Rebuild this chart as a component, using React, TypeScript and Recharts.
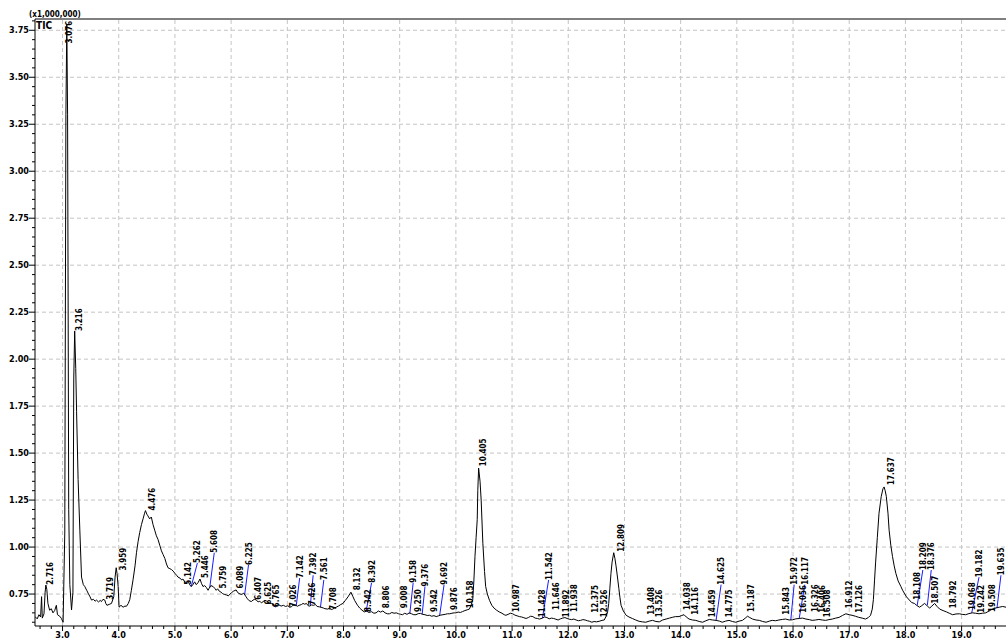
import React from "react";
import { ComposedChart, Line, Scatter, XAxis, YAxis, ReferenceLine } from "recharts";

// retention time (min) / TIC (x1,000,000)
const retentionTimes = [
  2.51, 2.55, 2.58, 2.61, 2.627, 2.64, 2.67, 2.69, 2.703, 2.72, 2.74, 2.77, 2.8, 2.83, 2.86, 2.89, 2.91, 2.95, 2.98, 3.01,
  3.04, 3.06, 3.076, 3.09, 3.11, 3.13, 3.16, 3.185, 3.2, 3.216, 3.235, 3.25, 3.277, 3.308, 3.338, 3.37, 3.396, 3.43, 3.455, 3.49,
  3.516, 3.55, 3.58, 3.604, 3.64, 3.67, 3.693, 3.72, 3.752, 3.77, 3.79, 3.83, 3.871, 3.912, 3.935, 3.955, 3.97, 3.99, 4.006, 4.04,
  4.078, 4.11, 4.138, 4.17, 4.196, 4.225, 4.255, 4.29, 4.316, 4.345, 4.374, 4.405, 4.433, 4.46, 4.476, 4.5, 4.52, 4.55, 4.58, 4.61,
  4.64, 4.67, 4.7, 4.73, 4.76, 4.79, 4.82, 4.85, 4.877, 4.91, 4.94, 4.97, 5.0, 5.03, 5.055, 5.09, 5.12, 5.142, 5.174, 5.2,
  5.233, 5.262, 5.29, 5.32, 5.35, 5.38, 5.41, 5.446, 5.475, 5.5, 5.53, 5.56, 5.59, 5.608, 5.64, 5.68, 5.71, 5.735, 5.759, 5.79,
  5.82, 5.85, 5.88, 5.92, 5.95, 5.98, 6.01, 6.04, 6.089, 6.12, 6.16, 6.19, 6.225, 6.26, 6.29, 6.32, 6.36, 6.39, 6.42, 6.45,
  6.48, 6.51, 6.54, 6.57, 6.6, 6.63, 6.66, 6.69, 6.72, 6.765, 6.8, 6.84, 6.89, 6.93, 6.97, 7.01, 7.04, 7.07, 7.1, 7.142,
  7.18, 7.21, 7.25, 7.28, 7.31, 7.34, 7.37, 7.4, 7.43, 7.47, 7.5, 7.53, 7.57, 7.6, 7.64, 7.67, 7.72, 7.75, 7.78, 7.81,
  7.84, 7.87, 7.91, 7.95, 7.99, 8.03, 8.08, 8.132, 8.17, 8.2, 8.25, 8.29, 8.33, 8.37, 8.41, 8.45, 8.5, 8.54, 8.58, 8.62,
  8.66, 8.7, 8.74, 8.78, 8.82, 8.86, 8.9, 8.94, 8.98, 9.01, 9.05, 9.09, 9.13, 9.17, 9.21, 9.25, 9.29, 9.33, 9.37, 9.41,
  9.45, 9.49, 9.53, 9.57, 9.61, 9.65, 9.69, 9.73, 9.77, 9.81, 9.85, 9.89, 9.93, 9.97, 10.0, 10.04, 10.08, 10.12, 10.16, 10.2,
  10.24, 10.27, 10.3, 10.32, 10.34, 10.36, 10.38, 10.39, 10.405, 10.43, 10.45, 10.48, 10.51, 10.53, 10.56, 10.6, 10.64, 10.68, 10.72, 10.77,
  10.82, 10.86, 10.89, 10.93, 10.97, 11.01, 11.05, 11.09, 11.13, 11.17, 11.21, 11.25, 11.29, 11.33, 11.37, 11.41, 11.45, 11.49, 11.54, 11.58,
  11.62, 11.66, 11.7, 11.74, 11.78, 11.82, 11.86, 11.9, 11.94, 11.98, 12.02, 12.06, 12.1, 12.14, 12.18, 12.22, 12.26, 12.3, 12.34, 12.38,
  12.42, 12.46, 12.5, 12.55, 12.6, 12.64, 12.67, 12.7, 12.72, 12.74, 12.76, 12.78, 12.809, 12.83, 12.85, 12.88, 12.9, 12.92, 12.94, 12.98,
  13.03, 13.08, 13.14, 13.2, 13.26, 13.32, 13.38, 13.44, 13.5, 13.56, 13.62, 13.68, 13.74, 13.8, 13.85, 13.91, 13.97, 14.02, 14.06, 14.1,
  14.15, 14.21, 14.27, 14.33, 14.39, 14.45, 14.51, 14.57, 14.63, 14.69, 14.74, 14.8, 14.86, 14.92, 14.98, 15.04, 15.1, 15.15, 15.19, 15.23,
  15.28, 15.34, 15.4, 15.46, 15.52, 15.58, 15.63, 15.69, 15.75, 15.81, 15.87, 15.93, 15.99, 16.05, 16.11, 16.17, 16.23, 16.29, 16.34, 16.4,
  16.46, 16.52, 16.58, 16.64, 16.7, 16.76, 16.82, 16.88, 16.94, 17.0, 17.05, 17.11, 17.17, 17.23, 17.29, 17.34, 17.38, 17.41, 17.43, 17.45,
  17.47, 17.5, 17.53, 17.57, 17.6, 17.62, 17.64, 17.66, 17.69, 17.71, 17.74, 17.77, 17.8, 17.83, 17.87, 17.92, 17.95, 17.98, 18.02, 18.07,
  18.11, 18.16, 18.2, 18.25, 18.29, 18.34, 18.38, 18.43, 18.47, 18.52, 18.56, 18.61, 18.67, 18.73, 18.78, 18.84, 18.9, 18.96, 19.01, 19.07,
  19.13, 19.19, 19.25, 19.31, 19.37, 19.43, 19.49, 19.55, 19.61, 19.67, 19.73, 19.79,
];

const ticValues = [
  0.63, 0.618, 0.64, 0.628, 0.736, 0.622, 0.645, 0.76, 0.798, 0.775, 0.7, 0.664, 0.672, 0.65, 0.662, 0.69, 0.64, 0.632, 0.62, 0.6,
  1.08, 3.3, 3.78, 3.3, 1.2, 0.8, 0.665, 0.76, 1.9, 2.15, 1.95, 1.72, 1.36, 1.09, 0.84, 0.8, 0.79, 0.77, 0.755, 0.735,
  0.718, 0.722, 0.712, 0.718, 0.708, 0.716, 0.71, 0.722, 0.718, 0.7, 0.69, 0.695, 0.7, 0.736, 0.84, 0.89, 0.86, 0.79, 0.68, 0.69,
  0.68, 0.686, 0.685, 0.7, 0.72, 0.77, 0.826, 0.9, 0.97, 1.03, 1.078, 1.12, 1.15, 1.18, 1.194, 1.175, 1.166, 1.15, 1.16, 1.12,
  1.09, 1.06, 1.04, 1.01, 0.98, 0.96, 0.94, 0.91, 0.89, 0.885, 0.88, 0.872, 0.86, 0.85, 0.84, 0.835, 0.825, 0.83, 0.815, 0.805,
  0.82, 0.8, 0.79, 0.8, 0.815, 0.8, 0.81, 0.83, 0.805, 0.79, 0.795, 0.785, 0.77, 0.78, 0.795, 0.79, 0.78, 0.77, 0.778, 0.765,
  0.76, 0.752, 0.748, 0.745, 0.74, 0.75, 0.758, 0.765, 0.772, 0.757, 0.75, 0.748, 0.755, 0.738, 0.725, 0.715, 0.71, 0.718, 0.722, 0.718,
  0.708, 0.712, 0.703, 0.71, 0.716, 0.714, 0.705, 0.7, 0.7, 0.692, 0.688, 0.694, 0.686, 0.69, 0.684, 0.688, 0.68, 0.682, 0.69, 0.692,
  0.685, 0.69, 0.694, 0.7, 0.696, 0.7, 0.688, 0.686, 0.692, 0.69, 0.695, 0.684, 0.682, 0.68, 0.676, 0.672, 0.67, 0.675, 0.668, 0.67,
  0.676, 0.68, 0.686, 0.694, 0.7, 0.715, 0.735, 0.76, 0.735, 0.715, 0.69, 0.675, 0.664, 0.655, 0.66, 0.652, 0.656, 0.648, 0.65, 0.66,
  0.654, 0.66, 0.65, 0.645, 0.645, 0.652, 0.648, 0.65, 0.645, 0.643, 0.64, 0.648, 0.642, 0.65, 0.645, 0.64, 0.64, 0.646, 0.647, 0.642,
  0.64, 0.636, 0.637, 0.632, 0.635, 0.63, 0.634, 0.638, 0.64, 0.642, 0.645, 0.645, 0.648, 0.65, 0.65, 0.654, 0.652, 0.657, 0.662, 0.666,
  0.67, 0.69, 0.72, 0.82, 0.95, 1.05, 1.146, 1.3, 1.42, 1.35, 1.25, 1.02, 0.87, 0.79, 0.75, 0.715, 0.69, 0.675, 0.665, 0.655,
  0.648, 0.64, 0.637, 0.642, 0.648, 0.645, 0.638, 0.634, 0.63, 0.628, 0.624, 0.62, 0.625, 0.632, 0.63, 0.622, 0.62, 0.617, 0.622, 0.628,
  0.625, 0.618, 0.622, 0.62, 0.616, 0.612, 0.618, 0.622, 0.625, 0.62, 0.616, 0.614, 0.617, 0.612, 0.608, 0.61, 0.614, 0.612, 0.608, 0.605,
  0.6, 0.604, 0.602, 0.605, 0.61, 0.612, 0.63, 0.655, 0.7, 0.78, 0.86, 0.92, 0.97, 0.94, 0.9, 0.83, 0.78, 0.73, 0.69, 0.66,
  0.637, 0.628, 0.62, 0.612, 0.605, 0.602, 0.6, 0.606, 0.61, 0.604, 0.602, 0.612, 0.617, 0.622, 0.626, 0.63, 0.63, 0.636, 0.64, 0.628,
  0.617, 0.612, 0.61, 0.604, 0.6, 0.608, 0.615, 0.612, 0.61, 0.606, 0.6, 0.606, 0.61, 0.604, 0.6, 0.606, 0.61, 0.622, 0.632, 0.625,
  0.617, 0.612, 0.61, 0.604, 0.6, 0.606, 0.61, 0.608, 0.612, 0.615, 0.617, 0.612, 0.613, 0.618, 0.62, 0.622, 0.617, 0.614, 0.61, 0.612,
  0.615, 0.612, 0.61, 0.614, 0.617, 0.622, 0.626, 0.636, 0.645, 0.64, 0.637, 0.632, 0.626, 0.622, 0.617, 0.625, 0.637, 0.67, 0.72, 0.82,
  0.92, 1.05, 1.18, 1.27, 1.31, 1.32, 1.3, 1.27, 1.18, 1.09, 1.01, 0.95, 0.9, 0.86, 0.82, 0.79, 0.77, 0.755, 0.735, 0.718,
  0.705, 0.7, 0.69, 0.68, 0.688, 0.7, 0.69, 0.675, 0.686, 0.7, 0.685, 0.67, 0.662, 0.655, 0.648, 0.64, 0.644, 0.645, 0.642, 0.64,
  0.646, 0.65, 0.648, 0.645, 0.648, 0.65, 0.66, 0.67, 0.676, 0.68, 0.684, 0.68,
];

// [label, label time, label base level, peak time, peak level]
const peakLabels: (string | number)[][] = [
  ["2.716", 2.77, 0.8],
  ["3.076", 3.12, 3.68],
  ["3.216", 3.3, 2.15],
  ["3.719", 3.84, 0.72],
  ["3.959", 4.07, 0.875],
  ["4.476", 4.59, 1.195],
  ["5.142", 5.23, 0.8],
  ["5.262", 5.4, 0.915, 5.29, 0.79],
  ["5.446", 5.53, 0.835],
  ["5.608", 5.7, 0.97, 5.62, 0.785],
  ["5.759", 5.85, 0.78],
  ["6.089", 6.15, 0.78],
  ["6.225", 6.31, 0.905, 6.24, 0.745],
  ["6.407", 6.47, 0.72],
  ["6.625", 6.65, 0.695],
  ["6.765", 6.8, 0.68, 6.75, 0.69],
  ["7.026", 7.1, 0.68],
  ["7.142", 7.22, 0.835, 7.16, 0.69],
  ["7.392", 7.46, 0.85, 7.41, 0.69],
  ["7.426", 7.44, 0.69],
  ["7.561", 7.65, 0.825, 7.59, 0.68],
  ["7.708", 7.81, 0.665],
  ["8.132", 8.24, 0.77],
  ["8.342", 8.44, 0.655],
  ["8.392", 8.5, 0.81, 8.4, 0.655],
  ["8.806", 8.75, 0.675],
  ["9.008", 9.08, 0.675],
  ["9.158", 9.24, 0.81, 9.18, 0.645],
  ["9.250", 9.33, 0.655],
  ["9.376", 9.45, 0.79, 9.4, 0.642],
  ["9.542", 9.61, 0.655],
  ["9.692", 9.79, 0.8, 9.71, 0.634],
  ["9.876", 9.97, 0.665],
  ["10.158", 10.25, 0.675],
  ["10.405", 10.48, 1.43],
  ["10.987", 11.07, 0.655],
  ["11.428", 11.54, 0.627],
  ["11.542", 11.65, 0.825, 11.54, 0.622],
  ["11.646", 11.78, 0.665],
  ["11.892", 11.96, 0.627],
  ["11.938", 12.11, 0.655],
  ["12.375", 12.47, 0.65],
  ["12.526", 12.64, 0.627],
  ["12.809", 12.94, 0.975],
  ["13.408", 13.47, 0.64],
  ["13.526", 13.62, 0.627],
  ["14.038", 14.12, 0.665],
  ["14.116", 14.25, 0.64],
  ["14.459", 14.56, 0.627],
  ["14.625", 14.72, 0.8, 14.63, 0.61],
  ["14.775", 14.86, 0.627],
  ["15.187", 15.25, 0.655],
  ["15.843", 15.87, 0.64],
  ["15.972", 16.02, 0.8, 15.96, 0.612],
  ["16.056", 16.17, 0.65],
  ["16.117", 16.21, 0.8, 16.11, 0.62],
  ["16.326", 16.39, 0.655],
  ["16.406", 16.51, 0.65],
  ["16.508", 16.6, 0.627],
  ["16.912", 17.0, 0.675],
  ["17.126", 17.17, 0.65],
  ["17.637", 17.74, 1.33],
  ["18.108", 18.21, 0.72],
  ["18.209", 18.31, 0.878, 18.21, 0.69],
  ["18.376", 18.46, 0.878, 18.39, 0.69],
  ["18.507", 18.53, 0.7],
  ["18.792", 18.84, 0.675],
  ["19.068", 19.19, 0.665],
  ["19.182", 19.31, 0.84, 19.18, 0.65],
  ["19.242", 19.34, 0.65],
  ["19.508", 19.55, 0.655],
  ["19.635", 19.7, 0.85, 19.63, 0.676],
];

const xMinorTicks = Array.from({ length: 86 }, (_, i) => (26 + i * 2) / 10); // 2.6 .. 19.6
const yMinorTicks = Array.from({ length: 65 }, (_, i) => (60 + i * 5) / 100); // 0.60 .. 3.80
const xMajorTicks = [3, 4, 5, 6, 7, 8, 9, 10, 11, 12, 13, 14, 15, 16, 17, 18, 19];
const yMajorTicks = [0.75, 1.0, 1.25, 1.5, 1.75, 2.0, 2.25, 2.5, 2.75, 3.0, 3.25, 3.5, 3.75];

const FONT = "'DejaVu Sans Condensed', 'DejaVu Sans', sans-serif";

const chartData = retentionTimes.map((t, i) => ({ t, tic: ticValues[i] }));
const labelData = peakLabels.map((p) => ({ t: p[1] as number, lv: p[2] as number, text: p[0] as string }));
const leaders = peakLabels.filter((p) => p.length > 3);

const isMajorX = (v: number) => Math.abs(v - Math.round(v)) < 1e-6;
const isMajorY = (v: number) => Math.abs(v * 4 - Math.round(v * 4)) < 1e-6;

const XTick = ({ x, y, payload }: any) => {
  const major = isMajorX(payload.value);
  return (
    <g>
      <line x1={x} x2={x} y1={y} y2={y + (major ? 5 : 3)} stroke="#000" />
      {major && (
        <text x={x} y={y + 12} textAnchor="middle" fontSize={9} fontWeight="bold" fontFamily={FONT} fill="#000">
          {payload.value.toFixed(1)}
        </text>
      )}
    </g>
  );
};

const YTick = ({ x, y, payload }: any) => {
  const major = isMajorY(payload.value);
  return (
    <g>
      <line x1={x - (major ? 6 : 3)} x2={x} y1={y} y2={y} stroke="#000" />
      {major && (
        <text x={x - 6} y={y + 3} textAnchor="end" fontSize={9} fontWeight="bold" fontFamily={FONT} fill="#000">
          {payload.value.toFixed(2)}
        </text>
      )}
    </g>
  );
};

const PeakLabel = ({ cx, cy, payload }: any) => (
  <text
    x={cx}
    y={cy}
    transform={`rotate(-90 ${cx} ${cy})`}
    textAnchor="start"
    dy={3}
    fontSize={8}
    fontWeight="bold"
    fontFamily={FONT}
    fill="#000"
  >
    {payload.text}
  </text>
);

export default function App() {
  return (
    <div style={{ position: "absolute", left: 0, top: 0, width: 1006, height: 640, background: "#fff" }}>
      <ComposedChart width={1006} height={640} data={chartData} margin={{ top: 19, right: 0, bottom: 0, left: 0 }}>
        <XAxis
          dataKey="t"
          type="number"
          domain={[2.51, 19.79]}
          allowDataOverflow
          ticks={xMinorTicks}
          interval={0}
          height={14}
          tickSize={0}
          tickMargin={0}
          tickLine={false}
          tick={<XTick />}
          axisLine={{ stroke: "#000" }}
        />
        <YAxis
          type="number"
          domain={[0.58, 3.81]}
          allowDataOverflow
          ticks={yMinorTicks}
          interval={0}
          width={35}
          tickSize={0}
          tickMargin={0}
          tickLine={false}
          tick={<YTick />}
          axisLine={{ stroke: "#000" }}
        />
        {xMajorTicks.map((v) => (
          <ReferenceLine key={`gx${v}`} x={v} stroke="#c4c4c4" strokeDasharray="4 3" />
        ))}
        {yMajorTicks.map((v) => (
          <ReferenceLine key={`gy${v}`} y={v} stroke="#c4c4c4" strokeDasharray="4 3" />
        ))}
        <ReferenceLine y={3.81} stroke="#000" />
        {leaders.map((p) => (
          <ReferenceLine
            key={`ld${p[0]}`}
            segment={[
              { x: p[1] as number, y: p[2] as number },
              { x: p[3] as number, y: p[4] as number },
            ]}
            stroke="#1a1aff"
            strokeWidth={1}
          />
        ))}
        <Line
          dataKey="tic"
          type="linear"
          stroke="#000"
          strokeWidth={1}
          dot={false}
          isAnimationActive={false}
        />
        <Scatter data={labelData} dataKey="lv" shape={<PeakLabel />} isAnimationActive={false} />
      </ComposedChart>
      <svg width={1006} height={640} style={{ position: "absolute", left: 0, top: 0, pointerEvents: "none" }}>
        <text x={29} y={17} fontSize={8} fontWeight="bold" fontFamily={FONT} fill="#000">
          (x1,000,000)
        </text>
        <text x={36} y={29} fontSize={10} fontWeight="bold" fontFamily={FONT} fill="#000">
          TIC
        </text>
      </svg>
    </div>
  );
}
